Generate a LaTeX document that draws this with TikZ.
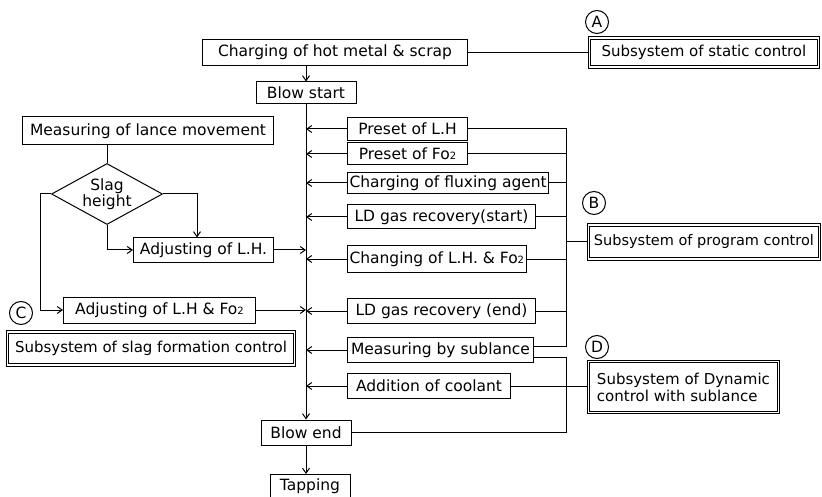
\documentclass[tikz,border=0pt]{standalone}
\usepackage{fontspec}
\setmainfont{DejaVu Sans}
\usetikzlibrary{shapes.geometric, arrows.meta}
\newcommand{\foTwo}{Fo{\fontsize{10}{10}\selectfont 2}}

\begin{document}
\begin{tikzpicture}[x=1pt, y=-1pt, line width=1pt, font=\fontsize{15.5}{17}\selectfont, >={Straight Barb[length=5pt,width=7pt]}]
\tikzstyle{stepBox} = [rectangle, draw, anchor=west, inner sep=2pt, minimum height=24pt]
\tikzstyle{subsysBox} = [rectangle, draw, anchor=west, double, double distance=1.4pt, line width=0.9pt, inner sep=3pt, font=\fontsize{15}{17}\selectfont]
\tikzstyle{decision} = [diamond, draw, aspect=1.8, inner sep=0pt, minimum width=111pt, minimum height=61pt, align=center, font=\fontsize{15.5}{15.5}\selectfont]
\tikzstyle{tagCircle} = [circle, draw, inner sep=0pt, minimum size=23pt]
\tikzstyle{arrow} = [->]
\useasboundingbox (0,0) rectangle (822,497);

\node (charging) [stepBox, minimum width=265pt, minimum height=26pt] at (202,52.5) {Charging of hot metal \& scrap};
\node (staticCtrl) [subsysBox, minimum width=229pt, minimum height=29pt] at (589,52.5) {Subsystem of static control};
\node (tagA) [tagCircle] at (597,22) {A};
\node (blowStart) [stepBox, anchor=center, minimum width=100pt, minimum height=22pt] at (306,93) {Blow start};

\node (lanceMeas) [stepBox, minimum width=251pt, minimum height=28pt] at (22,131) {Measuring of lance movement};
\node (slag) [decision] at (107,194) {Slag\\height};
\node (adjLH) [stepBox, minimum width=140pt] at (133,250) {Adjusting of L.H.};
\node (adjLHFo) [stepBox, minimum width=192pt, minimum height=26pt] at (63,310) {Adjusting of L.H \& \foTwo};
\node (tagC) [tagCircle] at (21,313) {C};
\node (slagCtrl) [subsysBox, minimum width=287pt, minimum height=33pt] at (7,348.5) {Subsystem of slag formation control};

\node (presetLH) [stepBox, minimum width=120pt, minimum height=23pt] at (347,129) {Preset of L.H};
\node (presetFo) [stepBox, minimum width=120pt, minimum height=22pt] at (347,154) {Preset of \foTwo};
\node (flux) [stepBox, minimum width=200pt, minimum height=21pt] at (347,183) {Charging of fluxing agent};
\node (gasStart) [stepBox, minimum width=188pt] at (347,217) {LD gas recovery(start)};
\node (changeLH) [stepBox, minimum width=176pt, minimum height=26pt] at (347,259) {Changing of L.H. \& \foTwo};
\node (gasEnd) [stepBox, minimum width=188pt, minimum height=25pt] at (347,311) {LD gas recovery (end)};
\node (sublance) [stepBox, minimum width=186pt, minimum height=25pt] at (347,350) {Measuring by sublance};
\node (coolant) [stepBox, minimum width=163pt, minimum height=25pt] at (347,386) {Addition of coolant};

\node (tagB) [tagCircle] at (594,203) {B};
\node (progCtrl) [subsysBox, minimum width=231pt, minimum height=34pt, inner sep=2pt, font=\fontsize{14.5}{17}\selectfont] at (588,242) {Subsystem of program control};
\node (tagD) [tagCircle] at (597,347) {D};
\node (dynCtrl) [subsysBox, minimum width=190pt, minimum height=51pt, align=left] at (588,387) {Subsystem of Dynamic\\control with sublance};

\node (blowEnd) [stepBox, anchor=center, minimum width=90pt, minimum height=25pt] at (306,432.5) {Blow end};
\node (tapping) [stepBox, anchor=north, minimum width=80pt, minimum height=23pt] at (310,474) {Tapping};
\coordinate (bus) at (566,0);

\draw (charging) -- (staticCtrl);
\draw[arrow] (charging.south -| blowStart) -- (blowStart);
\draw[arrow] (blowStart) -- (blowEnd);
\draw[arrow] (blowEnd.south) -- (blowEnd.south |- tapping.north);

\draw[arrow] (presetLH.west) -- (presetLH.west -| blowStart);
\draw[arrow] (presetFo.west) -- (presetFo.west -| blowStart);
\draw[arrow] (flux.west) -- (flux.west -| blowStart);
\draw[arrow] (gasStart.west) -- (gasStart.west -| blowStart);
\draw[arrow] (changeLH.west) -- (changeLH.west -| blowStart);
\draw[arrow] (gasEnd.west) -- (gasEnd.west -| blowStart);
\draw[arrow] (sublance.west) -- (sublance.west -| blowStart);
\draw[arrow] (coolant.west) -- (coolant.west -| blowStart);

\draw (lanceMeas.south -| slag) -- (slag);
\draw[arrow] (slag.east) -| ([xshift=64pt]adjLH.north west);
\draw[arrow] (slag.south) |- (adjLH.west);
\draw[arrow] (slag.west) -- ++(-11,0) |- (adjLHFo.west);
\draw[arrow] (adjLH.east) -- (adjLH.east -| blowStart);
\draw[arrow] (adjLHFo.east) -- (adjLHFo.east -| blowStart);

\draw (presetLH.east) -- (presetLH.east -| bus) -- ([yshift=4pt]sublance.east -| bus) -- ([yshift=4pt]sublance.east);
\draw (presetFo.east) -- (presetFo.east -| bus);
\draw (flux.east) -- (flux.east -| bus);
\draw (gasStart.east) -- (gasStart.east -| bus);
\draw (changeLH.east) -- (changeLH.east -| bus);
\draw (gasEnd.east) -- (gasEnd.east -| bus);
\draw (progCtrl.west -| bus) -- (progCtrl);
\draw ([yshift=-7pt]sublance.east) -| (blowEnd.east -| bus) -- (blowEnd);
\draw (coolant.east) -- (coolant.east -| dynCtrl.west);

\end{tikzpicture}
\end{document}
